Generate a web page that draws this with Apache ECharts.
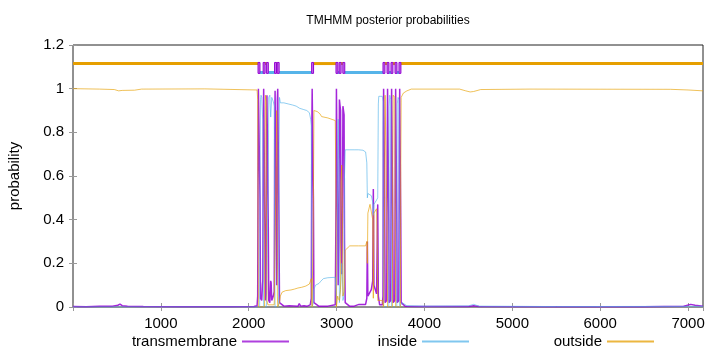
<!DOCTYPE html>
<html><head><meta charset="utf-8">
<script src="https://cdn.jsdelivr.net/npm/echarts@6/dist/echarts.min.js"></script>
<style>html,body{margin:0;padding:0;background:#fff}#c{width:720px;height:352px}</style>
</head><body><div id="c"></div>
<script>
const seqLength = 7170;
const xTickInterval = 1000;

const transmembrane = [
[1,0.002],[150,0.001],[300,0.003],[450,0.004],[510,0.008],[535,0.013],[560,0.006],[620,0.003],[800,0.002],[1200,0.001],[1800,0.001],[2060,0.002],[2095,0.006],
[2102,0.05],[2106,0.6],[2110,1.0],[2124,1.0],[2128,0.5],[2134,0.04],
[2148,0.03],[2156,0.1],[2160,0.12],[2166,0.85],[2170,1.0],[2180,1.0],[2184,0.35],[2190,0.03],
[2198,0.06],[2203,0.7],[2207,0.97],[2218,0.97],[2222,0.4],[2228,0.03],
[2240,0.02],[2250,0.12],[2255,0.11],[2262,0.03],[2280,0.05],[2290,0.07],
[2296,0.8],[2300,0.99],[2310,0.99],[2314,0.3],[2318,0.1],
[2322,0.2],[2326,0.95],[2330,1.0],[2340,1.0],[2344,0.4],[2350,0.02],
[2400,0.004],[2460,0.006],[2470,0.014],[2480,0.003],[2560,0.003],[2575,0.016],[2590,0.004],[2630,0.006],[2645,0.012],[2660,0.003],[2700,0.01],[2712,0.04],
[2718,0.8],[2722,1.0],[2732,1.0],[2736,0.5],[2742,0.02],
[2800,0.003],[2900,0.004],[2985,0.01],
[2994,0.5],[2998,1.0],[3008,1.0],[3012,0.4],[3018,0.1],
[3026,0.3],[3032,0.95],[3045,0.9],[3050,0.3],[3058,0.15],
[3066,0.4],[3072,0.92],[3085,0.88],[3090,0.3],[3098,0.02],
[3150,0.003],[3200,0.004],[3255,0.012],[3270,0.003],[3330,0.012],
[3344,0.04],[3350,0.3],[3356,0.05],[3395,0.08],[3411,0.12],[3418,0.54],[3425,0.1],[3455,0.06],[3468,0.47],[3475,0.05],[3490,0.01],[3520,0.01],
[3528,0.05],[3532,0.8],[3535,1.0],[3544,1.0],[3547,0.5],[3552,0.02],
[3570,0.03],[3576,0.7],[3580,1.0],[3590,1.0],[3594,0.4],[3598,0.02],
[3616,0.03],[3622,0.7],[3626,1.0],[3635,1.0],[3639,0.4],[3644,0.02],
[3662,0.03],[3668,0.7],[3672,1.0],[3681,1.0],[3685,0.4],[3690,0.02],
[3708,0.03],[3714,0.7],[3718,1.0],[3726,1.0],[3730,0.4],[3735,0.02],
[3780,0.004],[3900,0.002],[4500,0.002],[4560,0.006],[4620,0.002],[5500,0.001],[6500,0.001],[6950,0.003],[7030,0.012],[7080,0.008],[7170,0.004]
];

const inside = [
[1,0.0],[2100,0.0],[2124,0.0],[2128,0.5],[2134,0.95],[2140,0.97],[2148,0.96],[2156,0.88],[2160,0.86],[2166,0.12],[2170,0.0],
[2198,0.0],[2203,0.02],[2218,0.02],[2222,0.58],[2228,0.96],[2240,0.97],[2250,0.87],[2255,0.87],[2262,0.96],[2280,0.94],[2290,0.92],[2296,0.18],[2300,0.0],
[2340,0.0],[2344,0.6],[2350,0.96],[2360,0.935],[2400,0.935],[2450,0.93],[2500,0.925],[2540,0.92],[2580,0.91],[2620,0.905],[2660,0.9],[2690,0.89],[2705,0.86],[2712,0.83],[2718,0.18],[2722,0.0],
[2732,0.0],[2736,0.02],[2742,0.08],[2760,0.1],[2800,0.108],[2820,0.118],[2850,0.13],[2900,0.134],[2985,0.136],[2994,0.05],[2998,0.0],
[3008,0.0],[3012,0.55],[3018,0.86],[3026,0.66],[3032,0.02],[3045,0.02],[3050,0.12],[3058,0.2],[3066,0.14],[3072,0.03],
[3085,0.05],[3090,0.6],[3098,0.72],[3150,0.72],[3200,0.72],[3250,0.72],[3300,0.718],[3330,0.71],[3344,0.66],[3350,0.5],[3356,0.52],[3395,0.51],[3411,0.48],[3418,0.42],[3425,0.47],[3455,0.49],[3468,0.5],[3475,0.93],[3480,0.965],[3520,0.965],[3528,0.94],[3532,0.18],[3535,0.0],
[3594,0.0],[3598,0.92],[3605,0.97],[3612,0.96],[3616,0.95],[3622,0.28],[3626,0.0],
[3685,0.0],[3690,0.93],[3700,0.96],[3708,0.95],[3714,0.28],[3718,0.0],
[3735,0.0],[3745,0.02],[3800,0.006],[4000,0.004],[4500,0.005],[4560,0.012],[4620,0.004],[5500,0.002],[7170,0.003]
];

const outside = [
[1,1.0],[300,0.998],[470,0.996],[520,0.99],[560,0.992],[700,0.993],[780,0.998],[1500,0.999],[2095,0.994],[2102,0.95],[2106,0.4],[2110,0.0],
[2180,0.0],[2184,0.64],[2190,0.97],[2198,0.94],[2203,0.28],[2207,0.03],[2218,0.01],[2240,0.01],[2290,0.01],[2310,0.01],[2314,0.7],[2318,0.9],[2322,0.8],[2326,0.05],[2330,0.0],
[2344,0.0],[2350,0.02],[2360,0.05],[2380,0.068],[2420,0.075],[2480,0.078],[2520,0.082],[2560,0.087],[2600,0.09],[2650,0.096],[2690,0.105],[2712,0.13],[2718,0.02],[2722,0.0],
[2732,0.0],[2736,0.48],[2742,0.9],[2780,0.895],[2810,0.885],[2830,0.872],[2900,0.866],[2985,0.854],[2994,0.45],[2998,0.0],
[3008,0.0],[3012,0.05],[3018,0.04],[3026,0.04],[3032,0.03],[3045,0.08],[3050,0.58],[3058,0.65],[3066,0.46],[3072,0.05],
[3085,0.07],[3090,0.1],[3098,0.26],[3150,0.28],[3250,0.28],[3330,0.28],[3344,0.3],[3350,0.2],[3356,0.43],[3380,0.47],[3411,0.4],[3418,0.04],[3425,0.43],[3455,0.45],[3462,0.3],[3468,0.03],[3480,0.035],[3520,0.03],[3528,0.01],[3535,0.0],
[3544,0.0],[3547,0.5],[3552,0.97],[3570,0.97],[3576,0.3],[3580,0.0],
[3635,0.0],[3639,0.6],[3644,0.97],[3662,0.96],[3668,0.3],[3672,0.0],
[3726,0.0],[3730,0.6],[3735,0.96],[3760,0.98],[3800,0.99],[3850,0.998],[4400,0.998],[4470,0.99],[4520,0.985],[4560,0.987],[4640,0.996],[5200,0.998],[6800,0.997],[7000,0.994],[7170,0.99]
];

// predicted topology: transmembrane helix start / end residues
const tmStart = [2106,2164,2201,2294,2324,2716,2993,3029,3071,3528,3574,3619,3665,3710];
const tmEnd   = [2128,2186,2223,2316,2346,2738,3015,3051,3093,3550,3596,3641,3687,3732];

const FONT = '"Liberation Sans", Arial, sans-serif';
const C_TM = '#9400d3', C_IN = '#56b4e9', C_OUT = '#e69f00';
const LVL_OUT = 1.115, LVL_IN = 1.074, BOX_LO = 1.07, BOX_HI = 1.12;

const topBars = [];
for (let k = 0; k <= tmStart.length; k++) {
  const a = k === 0 ? 1 : tmEnd[k - 1];
  const b = k === tmStart.length ? seqLength : tmStart[k];
  topBars.push([a, b, k % 2]);
}
for (let i = 0; i < tmStart.length; i++) topBars.push([tmStart[i], tmEnd[i], 2]);

const chart = echarts.init(document.getElementById('c'), null, {renderer: 'canvas'});

const tickStyle = {show: true, inside: true, length: 4, lineStyle: {color: '#999', width: 1}};
const makeLegend = (name, color, right) => ({
  right: right, top: 329, itemWidth: 47, itemHeight: 14, align: 'right', orient: 'horizontal',
  data: [name], selectedMode: false,
  itemStyle: {color: color, borderColor: color, opacity: 0},
  lineStyle: {color: color, width: 2, opacity: 0.75},
  textStyle: {fontFamily: FONT, fontSize: 15, color: '#000'}
});

chart.setOption({
  animation: false,
  backgroundColor: '#fff',
  grid: {left: 73, right: 17, top: 45, bottom: 45, show: true, borderColor: '#222', borderWidth: 1, backgroundColor: 'transparent'},
  graphic: [
    {type: 'text', x: 388, y: 21, style: {text: 'TMHMM posterior probabilities', fontFamily: FONT, fontSize: 12, fill: '#000', textAlign: 'center', textVerticalAlign: 'middle'}},
    {type: 'text', x: 15, y: 176, rotation: Math.PI / 2, style: {text: 'probability', fontFamily: FONT, fontSize: 15, fill: '#000', textAlign: 'center', textVerticalAlign: 'middle'}}
  ],
  legend: [
    makeLegend('transmembrane', C_TM, 425),
    makeLegend('inside', C_IN, 245),
    makeLegend('outside', C_OUT, 60)
  ],
  xAxis: [
    {type: 'value', min: 0, max: seqLength, interval: xTickInterval, position: 'bottom',
     axisLine: {show: false}, axisTick: tickStyle, splitLine: {show: false},
     axisLabel: {show: true, showMaxLabel: false, margin: 9, fontFamily: FONT, fontSize: 15, color: '#000',
       formatter: v => (v === 0 ? '' : String(v))}},
    {type: 'value', min: 0, max: seqLength, interval: xTickInterval, position: 'top',
     axisLine: {show: false}, axisTick: tickStyle, splitLine: {show: false}, axisLabel: {show: false}}
  ],
  yAxis: [
    {type: 'value', min: 0, max: 1.2, interval: 0.2, position: 'left',
     axisLine: {show: false}, axisTick: tickStyle, splitLine: {show: false},
     axisLabel: {margin: 9, fontFamily: FONT, fontSize: 15, color: '#000'}},
    {type: 'value', min: 0, max: 1.2, interval: 0.2, position: 'right',
     axisLine: {show: false}, axisTick: tickStyle, splitLine: {show: false}, axisLabel: {show: false}}
  ],
  series: [
    {name: 'transmembrane', type: 'line', data: transmembrane, symbol: 'none', showSymbol: false,
     color: C_TM, lineStyle: {color: C_TM, width: 1.5, opacity: 0.85}, z: 2},
    {name: 'inside', type: 'line', data: inside, symbol: 'none', showSymbol: false,
     color: C_IN, lineStyle: {color: C_IN, width: 1, opacity: 0.65}, z: 3},
    {name: 'outside', type: 'line', data: outside, symbol: 'none', showSymbol: false,
     color: C_OUT, lineStyle: {color: C_OUT, width: 1, opacity: 0.65}, z: 4},
    {type: 'custom', data: topBars, z: 5, silent: true,
     renderItem: function (params, api) {
       const a = api.value(0), b = api.value(1), k = api.value(2);
       if (k === 2) {
         const p1 = api.coord([a, BOX_HI]), p2 = api.coord([b, BOX_LO]);
         return {type: 'rect', shape: {x: p1[0], y: p1[1], width: Math.max(p2[0] - p1[0], 1.5), height: p2[1] - p1[1]},
           style: {fill: 'rgba(148,0,211,0.55)', stroke: C_TM, lineWidth: 1}};
       }
       const lvl = k === 0 ? LVL_OUT : LVL_IN;
       const p1 = api.coord([a, lvl]), p2 = api.coord([b, lvl]);
       return {type: 'rect', shape: {x: p1[0], y: p1[1] - 1.5, width: p2[0] - p1[0], height: 3},
         style: {fill: k === 0 ? C_OUT : C_IN}};
     }}
  ]
});
</script></body></html>
